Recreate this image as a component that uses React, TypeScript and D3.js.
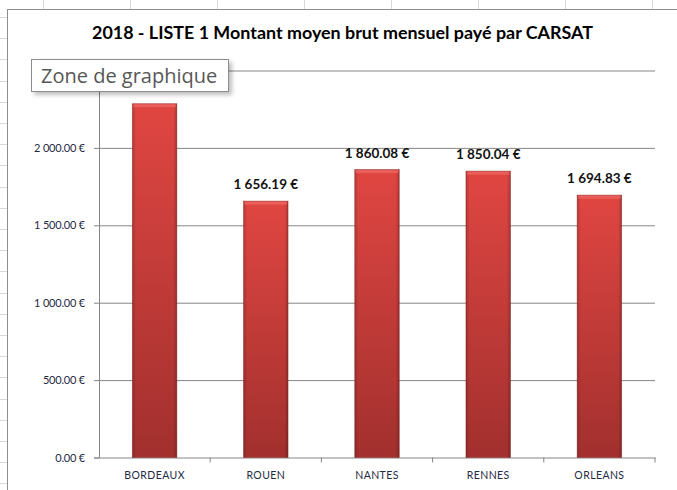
import { useEffect, useRef } from "react";
import * as d3 from "d3";

const W = 677;
const H = 490;
const PLOT = { left: 99, right: 655, top: 70.5, bottom: 457.5 };

const CITIES = ["BORDEAUX", "ROUEN", "NANTES", "RENNES", "ORLEANS"];
const AMOUNTS = [2285.5, 1656.19, 1860.08, 1850.04, 1694.83];
const Y_TICKS = [0, 500, 1000, 1500, 2000, 2500];
const TITLE = "2018 - LISTE 1 Montant moyen brut mensuel payé par CARSAT";
const TOOLTIP = "Zone de graphique";

const FONT = '"Lato", "Open Sans", "Liberation Sans", sans-serif';
const TOOLTIP_FONT = '"Open Sans", "Noto Sans", sans-serif';

const euroFormat = d3.formatLocale({
  decimal: ".",
  thousands: "\u2009",
  grouping: [3],
  currency: ["", " €"],
}).format(",.2f");
const euro = (value: number) => `${euroFormat(value).replace("\u2009", " ")} €`;

export default function App() {
  const svgRef = useRef<SVGSVGElement | null>(null);

  useEffect(() => {
    const svg = d3.select(svgRef.current);
    svg.selectAll("*").remove();

    const defs = svg.append("defs");
    const grad = defs
      .append("linearGradient")
      .attr("id", "barFill")
      .attr("x1", 0)
      .attr("y1", 0)
      .attr("x2", 0)
      .attr("y2", 1);
    grad.append("stop").attr("offset", "0%").attr("stop-color", "#e04642");
    grad.append("stop").attr("offset", "100%").attr("stop-color", "#a2302e");

    const side = defs
      .append("linearGradient")
      .attr("id", "barSide")
      .attr("x1", 0)
      .attr("y1", 0)
      .attr("x2", 1)
      .attr("y2", 0);
    side.append("stop").attr("offset", "0%").attr("stop-color", "#000").attr("stop-opacity", 0.18);
    side.append("stop").attr("offset", "8%").attr("stop-color", "#000").attr("stop-opacity", 0);
    side.append("stop").attr("offset", "92%").attr("stop-color", "#000").attr("stop-opacity", 0);
    side.append("stop").attr("offset", "100%").attr("stop-color", "#000").attr("stop-opacity", 0.22);

    const shadow = defs
      .append("filter")
      .attr("id", "tipShadow")
      .attr("x", "-10%")
      .attr("y", "-30%")
      .attr("width", "130%")
      .attr("height", "180%");
    shadow
      .append("feDropShadow")
      .attr("dx", 3)
      .attr("dy", 3)
      .attr("stdDeviation", 2)
      .attr("flood-color", "#000")
      .attr("flood-opacity", 0.25);

    // spreadsheet background
    svg.append("rect").attr("width", W).attr("height", H).attr("fill", "#fff");
    svg
      .append("g")
      .selectAll("line")
      .data(d3.range(43, W, 87))
      .join("line")
      .attr("x1", (d) => d + 0.5)
      .attr("x2", (d) => d + 0.5)
      .attr("y1", 0)
      .attr("y2", 10)
      .attr("stroke", "#d9d9d9");
    svg
      .append("g")
      .selectAll("line")
      .data(d3.range(17, H, 21.2))
      .join("line")
      .attr("x1", 0)
      .attr("x2", 8)
      .attr("y1", (d) => Math.round(d) + 0.5)
      .attr("y2", (d) => Math.round(d) + 0.5)
      .attr("stroke", "#d9d9d9");

    // chart area
    svg
      .append("rect")
      .attr("x", 7.5)
      .attr("y", 9.5)
      .attr("width", W)
      .attr("height", H)
      .attr("fill", "#fff")
      .attr("stroke", "#8e8e8e");

    svg
      .append("text")
      .attr("x", 92)
      .attr("y", 39)
      .attr("textLength", 501)
      .attr("lengthAdjust", "spacingAndGlyphs")
      .attr("font-family", FONT)
      .attr("font-size", 16.5)
      .attr("font-weight", 700)
      .attr("fill", "#000")
      .text(TITLE);

    const x = d3
      .scaleBand<string>()
      .domain(CITIES)
      .range([PLOT.left, PLOT.right])
      .paddingInner(0.6)
      .paddingOuter(0.3);
    const band = d3.scaleBand<string>().domain(CITIES).range([PLOT.left, PLOT.right]);
    const y = d3.scaleLinear().domain([0, 2500]).range([PLOT.bottom, PLOT.top]);

    // gridlines + y axis
    const yAxis = svg
      .append("g")
      .attr("transform", `translate(${PLOT.left},0)`)
      .call(
        d3
          .axisLeft(y)
          .tickValues(Y_TICKS)
          .tickFormat((v) => euro(v as number))
          .tickSize(5)
          .tickPadding(9)
      );
    yAxis.select(".domain").attr("stroke", "#868686");
    yAxis.selectAll(".tick line").attr("stroke", "#868686");
    yAxis
      .selectAll(".tick text")
      .attr("fill", "#1f2a44")
      .attr("font-size", 11)
      .attr("letter-spacing", "-0.2px")
      .attr("font-family", FONT);
    yAxis
      .selectAll(".tick")
      .filter((d) => (d as number) > 0)
      .append("line")
      .attr("x1", 0)
      .attr("x2", PLOT.right - PLOT.left)
      .attr("stroke", "#868686");

    // x axis
    const xAxis = svg
      .append("g")
      .attr("transform", `translate(0,${PLOT.bottom})`)
      .call(d3.axisBottom(band).tickSize(0).tickPadding(14));
    xAxis.select(".domain").attr("stroke", "#868686");
    xAxis
      .selectAll(".tick text")
      .attr("fill", "#1f2a44")
      .attr("font-size", 10.5)
      .attr("letter-spacing", "0.4px")
      .attr("font-family", FONT);
    svg
      .append("g")
      .selectAll("line")
      .data(CITIES.slice(1))
      .join("line")
      .attr("x1", (c) => band(c) as number)
      .attr("x2", (c) => band(c) as number)
      .attr("y1", PLOT.bottom)
      .attr("y2", PLOT.bottom + 5)
      .attr("stroke", "#868686");
    svg
      .append("line")
      .attr("x1", PLOT.right)
      .attr("x2", PLOT.right)
      .attr("y1", PLOT.bottom)
      .attr("y2", PLOT.bottom + 5)
      .attr("stroke", "#868686");

    // bars
    const bars = svg.append("g");
    const rows = CITIES.map((city, i) => ({ city, value: AMOUNTS[i] }));
    bars
      .selectAll("rect.bar")
      .data(rows)
      .join("rect")
      .attr("class", "bar")
      .attr("x", (d) => x(d.city) as number)
      .attr("y", (d) => y(d.value))
      .attr("width", x.bandwidth())
      .attr("height", (d) => PLOT.bottom - y(d.value))
      .attr("fill", "url(#barFill)")
      .attr("stroke", "#8a2a28")
      .attr("stroke-opacity", 0.6)
      .attr("stroke-width", 0.8);
    bars
      .selectAll("rect.side")
      .data(rows)
      .join("rect")
      .attr("class", "side")
      .attr("x", (d) => x(d.city) as number)
      .attr("y", (d) => y(d.value))
      .attr("width", x.bandwidth())
      .attr("height", (d) => PLOT.bottom - y(d.value))
      .attr("fill", "url(#barSide)");
    bars
      .selectAll("rect.bevel")
      .data(rows)
      .join("rect")
      .attr("class", "bevel")
      .attr("x", (d) => (x(d.city) as number) + 1)
      .attr("y", (d) => y(d.value) + 0.5)
      .attr("width", x.bandwidth() - 2)
      .attr("height", 3)
      .attr("fill", "#ee6a64")
      .attr("opacity", 0.7);

    // value labels
    svg
      .append("g")
      .selectAll("text")
      .data(rows)
      .join("text")
      .attr("x", (d) => (x(d.city) as number) + x.bandwidth() / 2)
      .attr("y", (d) => y(d.value) - 12)
      .attr("text-anchor", "middle")
      .attr("font-family", FONT)
      .attr("font-size", 13.5)
      .attr("font-weight", 700)
      .attr("fill", "#111")
      .text((d) => euro(d.value));

    // hover tooltip
    const tip = svg.append("g");
    tip
      .append("rect")
      .attr("x", 31.5)
      .attr("y", 59.5)
      .attr("width", 197)
      .attr("height", 32)
      .attr("fill", "#fff")
      .attr("stroke", "#8c8c8c")
      .attr("filter", "url(#tipShadow)");
    tip
      .append("text")
      .attr("x", 41)
      .attr("y", 83)
      .attr("font-family", TOOLTIP_FONT)
      .attr("font-size", 20)
      .attr("fill", "#575757")
      .text(TOOLTIP);
  }, []);

  return (
    <svg
      ref={svgRef}
      width={W}
      height={H}
      style={{ position: "fixed", left: 0, top: 0, display: "block" }}
    />
  );
}
